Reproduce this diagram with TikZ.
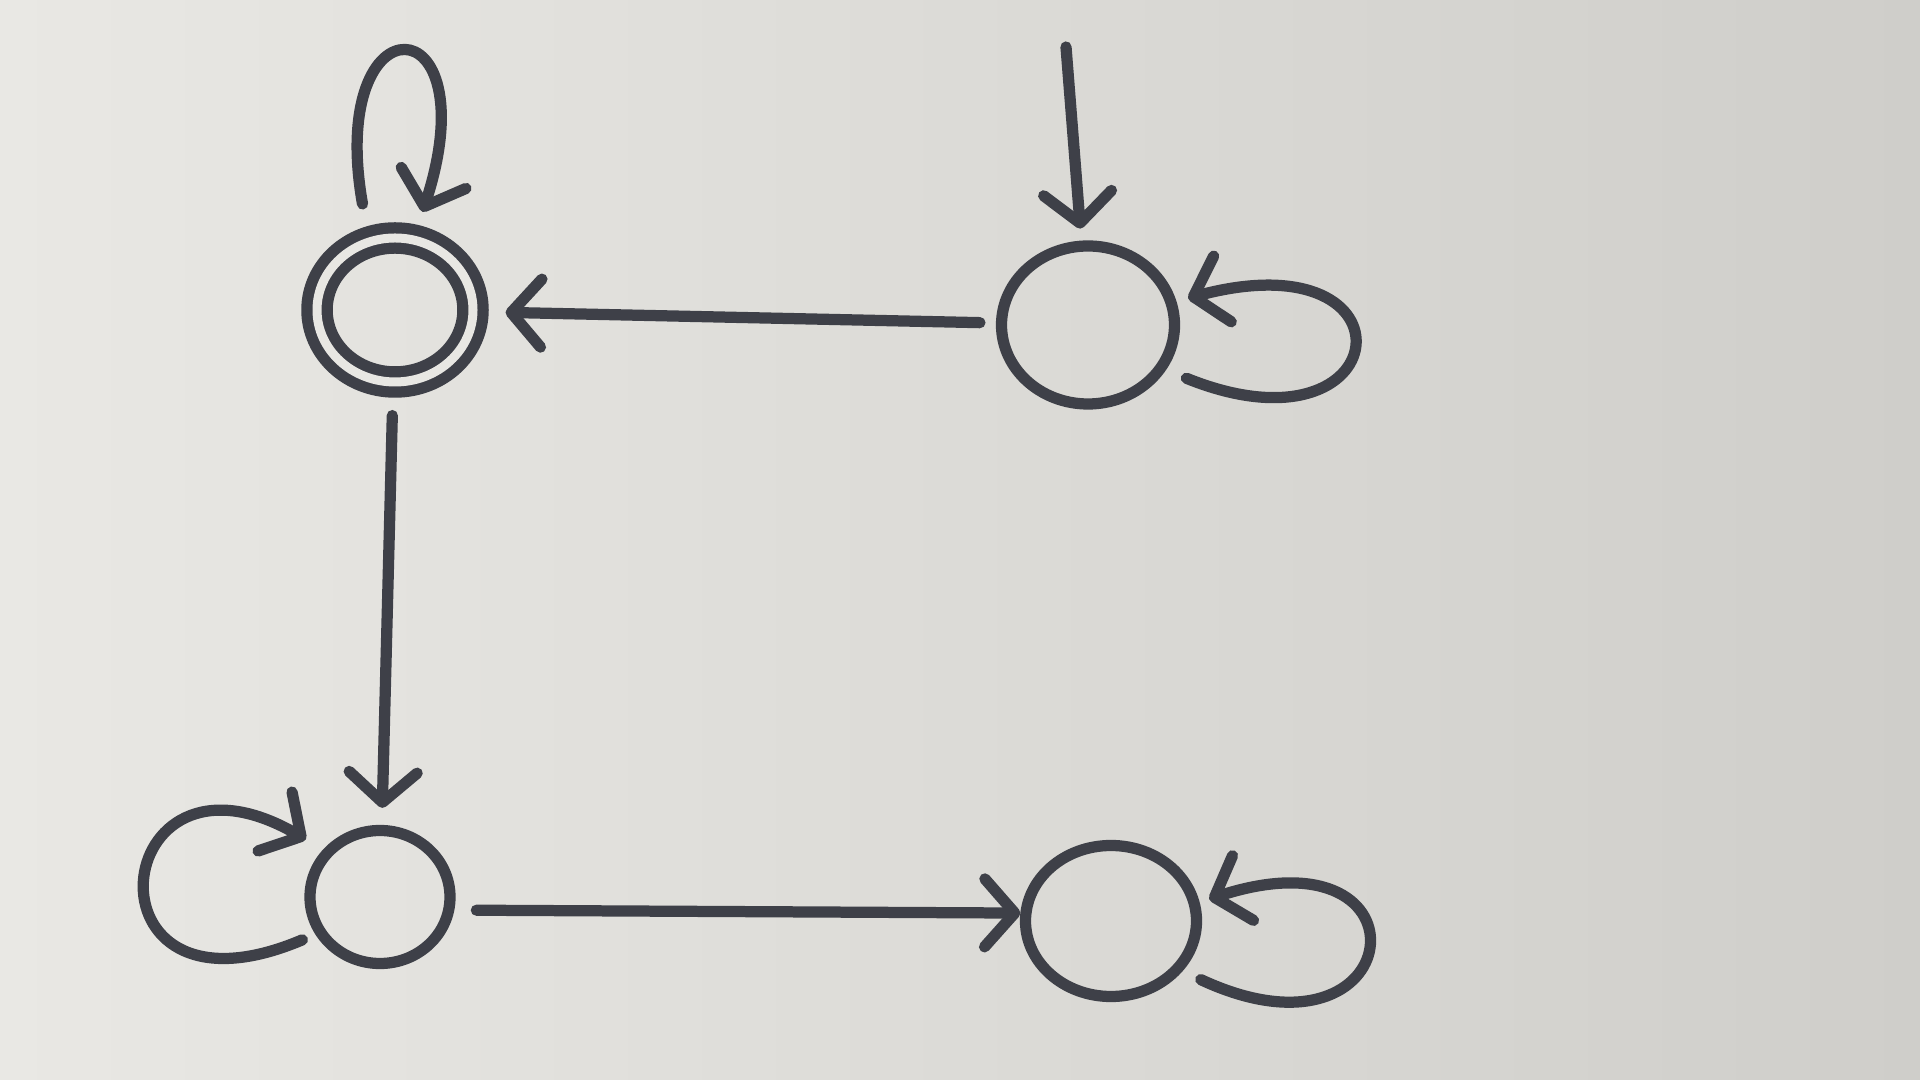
\documentclass[tikz,border=0pt]{standalone}
\usetikzlibrary{arrows.meta,shapes.geometric}
\definecolor{ink}{RGB}{62,64,72}
\definecolor{paperL}{RGB}{233,232,228}
\definecolor{paperR}{RGB}{207,206,202}
\tikzset{
every picture/.style={
line width=3.2pt
}}

\begin{document}
\begin{tikzpicture}[
state/.style = {ellipse, draw=ink, inner sep=0pt},
acc/.style = {double=paperL!95!paperR, double distance=0.9mm},
trans/.style = {draw=ink, -{Straight Barb[length=3mm,width=6.8mm,round]}, line cap=round}]

\shade[left color=paperL, right color=paperR] (0,0) rectangle (19.2,10.8);
\useasboundingbox (0,0) rectangle (19.2,10.8);

% states
\node[state, acc, minimum width=1.56cm, minimum height=1.44cm] (q1) at (3.95,7.70) {};
\node[state, minimum width=1.73cm, minimum height=1.58cm] (q0) at (10.88,7.55) {};
\node[state, minimum width=1.40cm, minimum height=1.33cm] (q2) at (3.80,1.83) {};
\node[state, minimum width=1.71cm, minimum height=1.51cm] (q3) at (11.11,1.59) {};

% start arrow
\coordinate (init) at (10.66,10.33);
\draw[trans, shorten >=1.2mm] (init) -- (q0);

% transitions
\draw[trans, shorten <=1.6mm, shorten >=2.7mm] (q0) -- (q1);
\draw[trans, shorten <=2.8mm, shorten >=1.7mm] (q1) -- (q2);
\draw[trans, shorten <=2.2mm] (q2.-10) -- (q3.175);

% self loops
\draw[trans, shorten <=3.3mm, shorten >=2.4mm] (q1.110) .. controls +(100:2.45) and +(72:2.45) .. (q1.75);
\draw[trans, shorten <=2.2mm, shorten >=1.2mm] (q0.-30) .. controls +(-22:2.5) and +(15:2.55) .. (q0.15);
\draw[trans, shorten <=1.4mm, shorten >=2mm] (q2.210) .. controls +(203:2.6) and +(150:2.5) .. (q2.140);
\draw[trans, shorten <=2mm, shorten >=1mm] (q3.-35) .. controls +(-25:2.5) and +(18:2.5) .. (q3.12);
\end{tikzpicture}
\end{document}
